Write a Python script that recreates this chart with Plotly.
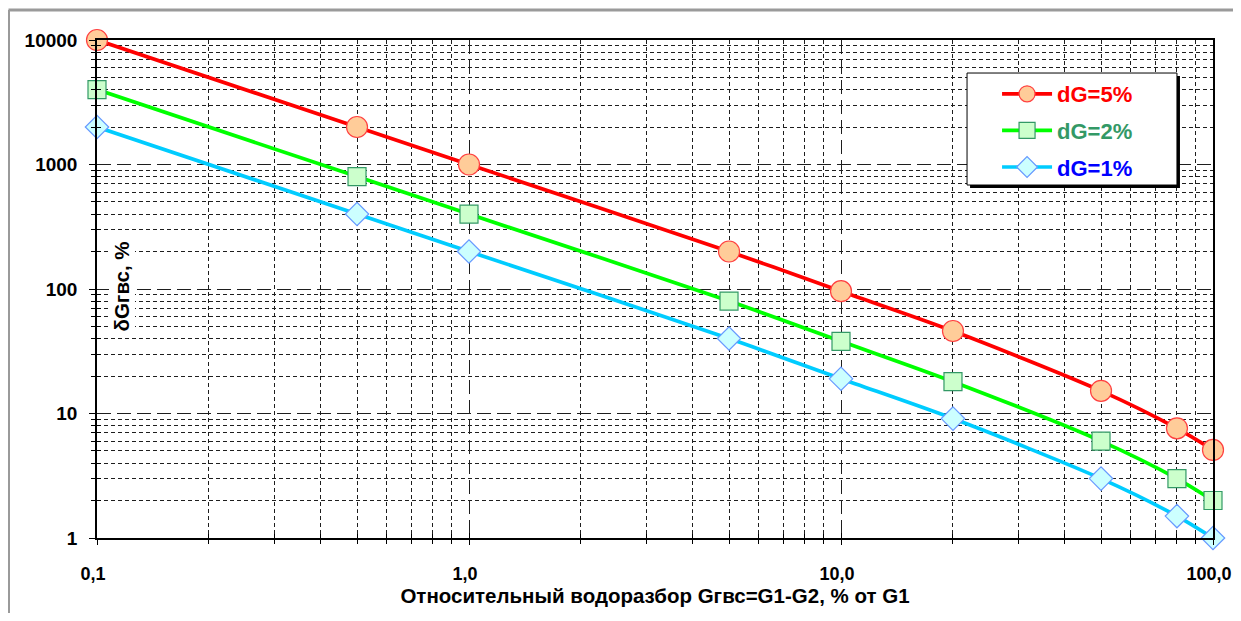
import plotly.graph_objects as go

# ---- data ----
x_vals = [0.1, 0.5, 1, 5, 10, 20, 50, 80, 100]
dg5 = [10000, 2000, 1000, 200, 96, 46, 15.2, 7.6, 5.1]
dg2 = [4000, 800, 400, 80, 38, 18, 6.0, 3.0, 2.0]
dg1 = [2000, 400, 200, 40, 19, 9.1, 3.0, 1.5, 1.0]

x_major = [0.1, 1, 10, 100]
x_major_text = ["0,1", "1,0", "10,0", "100,0"]
y_major = [1, 10, 100, 1000, 10000]
y_major_text = ["1", "10", "100", "1000", "10000"]

x_minor = [m * d for d in (0.1, 1, 10) for m in range(2, 10)]
y_minor = [m * d for d in (1, 10, 100, 1000) for m in range(2, 10)]

FONT = "Liberation Sans, Arial, sans-serif"

fig = go.Figure()

series = [
    ("dG=5%", dg5, "#FF0000", "circle", "#FFCC99", "#FF4040", 21, "#FF0000"),
    ("dG=2%", dg2, "#00FF00", "square", "#CCFFCC", "#339966", 18, "#339966"),
    ("dG=1%", dg1, "#00CCFF", "diamond", "#CCFFFF", "#6699FF", 18, "#0000FF"),
]
for name, ys, lc, sym, fill, mline, msize, tcol in series:
    fig.add_trace(go.Scatter(
        x=x_vals, y=ys, mode="lines+markers",
        name=f'<span style="color:{tcol}"><b>{name}</b></span>',
        legendgroup=name,
        line=dict(color=lc, width=3.7, shape="spline", smoothing=0.8),
        marker=dict(symbol=sym, size=msize, color=fill, line=dict(color=mline, width=1.2)),
        cliponaxis=False,
    ))

grid_col = "#1e1e1e"
# page body has an 8px margin, so the figure is sized/offset accordingly
fig.update_layout(
    width=1225, height=605,
    margin=dict(l=89, r=20, t=32, b=75, autoexpand=False),
    paper_bgcolor="white", plot_bgcolor="white",
    font=dict(family=FONT, color="black"),
    showlegend=True,
    legend=dict(
        x=0.8065, y=0.9337, xanchor="left", yanchor="top",
        bgcolor="rgba(0,0,0,0)", borderwidth=0,
        font=dict(size=22, family=FONT),
        itemwidth=50, tracegroupgap=5,
    ),
    xaxis=dict(
        type="log", range=[-1, 2],
        tickmode="array", tickvals=x_major, ticktext=x_major_text,
        tickfont=dict(size=18, family=FONT, weight="bold"),
        ticks="outside", ticklen=5, tickcolor="black", tickwidth=1,
        ticklabelstandoff=14, ticklabelshift=-4,
        showline=True, linecolor="black", linewidth=1.5, mirror=True,
        showgrid=True, gridcolor=grid_col, gridwidth=1, griddash="14px,6px",
        minor=dict(tickmode="array", tickvals=x_minor, ticks="outside", ticklen=4,
                   tickcolor="black", showgrid=True, gridcolor=grid_col,
                   gridwidth=1, griddash="4px,3px"),
        title=dict(text="<b>Относительный водоразбор Gгвс=G1-G2, % от G1</b>",
                   font=dict(size=20.5, family=FONT), standoff=4),
        zeroline=False, automargin=False,
    ),
    yaxis=dict(
        type="log", range=[0, 4],
        tickmode="array", tickvals=y_major, ticktext=y_major_text,
        tickfont=dict(size=19, family=FONT, weight="bold"),
        ticks="outside", ticklen=6, tickcolor="black", tickwidth=1,
        ticklabelstandoff=8,
        showline=True, linecolor="black", linewidth=1.5, mirror=True,
        showgrid=True, gridcolor=grid_col, gridwidth=1, griddash="14px,6px",
        minor=dict(tickmode="array", tickvals=y_minor, ticks="outside", ticklen=4,
                   tickcolor="black", showgrid=True, gridcolor=grid_col,
                   gridwidth=1, griddash="4px,3px"),
        zeroline=False, automargin=False,
    ),
    # overlay axes to give the crossing (inside) half of the tick marks
    xaxis2=dict(
        type="log", range=[-1, 2], overlaying="x", anchor="y", side="bottom",
        tickmode="array", tickvals=x_major, showticklabels=False,
        ticks="inside", ticklen=5, tickcolor="black", showgrid=False, showline=False,
        minor=dict(tickmode="array", tickvals=x_minor, ticks="inside", ticklen=4,
                   tickcolor="black", showgrid=False),
        zeroline=False, automargin=False,
    ),
    yaxis2=dict(
        type="log", range=[0, 4], overlaying="y", anchor="x", side="left",
        tickmode="array", tickvals=y_major, showticklabels=False,
        ticks="", showgrid=False, showline=False,
        minor=dict(tickmode="array", tickvals=y_minor, ticks="inside", ticklen=4,
                   tickcolor="black", showgrid=False),
        zeroline=False, automargin=False,
    ),
)

# dummy invisible trace to activate the overlay axes
fig.add_trace(go.Scatter(x=[0.1], y=[1], xaxis="x2", yaxis="y2", mode="markers",
                         marker=dict(opacity=0), showlegend=False, hoverinfo="skip"))

# y-axis title placed inside plot area with white background
fig.add_annotation(
    text="<b>δGгвс, %</b>", textangle=-90,
    xref="paper", yref="paper", x=0.0224, y=0.505,
    xanchor="center", yanchor="middle", showarrow=False,
    font=dict(size=20.5, family=FONT, color="black"),
    bgcolor="white", borderpad=1,
)

# legend box with drop shadow (drawn as shapes beneath the transparent legend)
fig.add_shape(type="rect", xref="paper", yref="paper",
              x0=0.7823, x1=0.9704, y0=0.7028, y1=0.9277,
              fillcolor="black", line=dict(width=0), layer="above")
fig.add_shape(type="rect", xref="paper", yref="paper",
              x0=0.7796, x1=0.9677, y0=0.7088, y1=0.9337,
              fillcolor="white", line=dict(color="black", width=1), layer="above")

# outer gray frame (top and left edges)
fig.add_shape(type="line", xref="paper", yref="paper",
              x0=-0.0793, x1=1.03, y0=1.0602, y1=1.0602,
              line=dict(color="#9a9a9a", width=3), layer="above")
fig.add_shape(type="line", xref="paper", yref="paper",
              x0=-0.0793, x1=-0.0793, y0=1.0602, y1=-0.2,
              line=dict(color="#9a9a9a", width=3), layer="above")

fig.write_html("out.html", config={"displayModeBar": False})
